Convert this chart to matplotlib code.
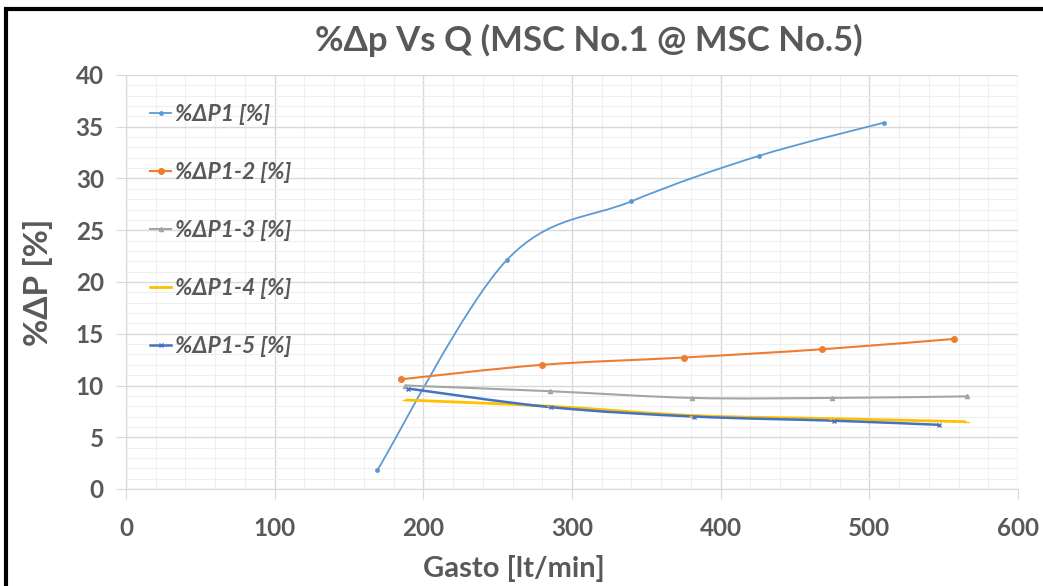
import matplotlib
matplotlib.use("Agg")
import matplotlib.pyplot as plt
import numpy as np
from matplotlib.path import Path
from matplotlib.patches import PathPatch, Rectangle
from matplotlib.lines import Line2D
from matplotlib.ticker import MultipleLocator

# ---- data ----
x_p1 = [169, 256, 340, 426, 510]
y_p1 = [1.8, 22.1, 27.8, 32.2, 35.4]

x_p12 = [185, 280, 375, 468, 557]
y_p12 = [10.6, 12.0, 12.7, 13.5, 14.5]

x_p13 = [188, 285, 381, 475, 566]
y_p13 = [10.0, 9.45, 8.8, 8.8, 8.95]

x_p14 = [188, 285, 381, 475, 565]
y_p14 = [8.6, 8.0, 7.1, 6.8, 6.5]

x_p15 = [190, 286, 382, 476, 547]
y_p15 = [9.7, 7.9, 7.0, 6.6, 6.2]

labels = ["%ΔP1 [%]", "%ΔP1-2 [%]", "%ΔP1-3 [%]", "%ΔP1-4 [%]", "%ΔP1-5 [%]"]
colors = ["#5B9BD5", "#ED7D31", "#A5A5A5", "#FFC000", "#4472C4"]
markers = ["o", "o", "^", "_", "x"]
msizes = [2.5, 4, 3, 5, 3]
lws = [1.3, 1.5, 1.5, 2.0, 1.8]

title = "%Δp Vs Q (MSC No.1 @ MSC No.5)"
xlabel = "Gasto [lt/min]"
ylabel = "%ΔP [%]"

series = [(x_p1, y_p1), (x_p12, y_p12), (x_p13, y_p13), (x_p14, y_p14), (x_p15, y_p15)]

gray = "#595959"
font = ["Lato", "DejaVu Sans"]

fig = plt.figure(figsize=(10.43, 5.86), dpi=100)
ax = fig.add_axes([126 / 1043, 1 - 489 / 586, (1018 - 126) / 1043, (489 - 75) / 586])


def smooth_path(xs, ys, t=1 / 6):
    pts = np.column_stack([xs, ys]).astype(float)
    n = len(pts)
    verts = [pts[0]]
    codes = [Path.MOVETO]
    for i in range(n - 1):
        p0 = pts[i - 1] if i > 0 else pts[i]
        p1 = pts[i]
        p2 = pts[i + 1]
        p3 = pts[i + 2] if i + 2 < n else pts[i + 1]
        c1 = p1 + (p2 - p0) * t
        c2 = p2 - (p3 - p1) * t
        verts += [c1, c2, p2]
        codes += [Path.CURVE4] * 3
    return Path(verts, codes)


handles = []
for (xs, ys), lab, c, m, ms, lw in zip(series, labels, colors, markers, msizes, lws):
    patch = PathPatch(smooth_path(xs, ys), facecolor="none", edgecolor=c, lw=lw, zorder=3)
    ax.add_patch(patch)
    ax.plot(xs, ys, linestyle="none", marker=m, color=c, markersize=ms, zorder=4)
    handles.append(Line2D([], [], color=c, lw=lw, marker=m, markersize=ms))

ax.set_xlim(0, 600)
ax.set_ylim(0, 40)
ax.xaxis.set_major_locator(MultipleLocator(100))
ax.xaxis.set_minor_locator(MultipleLocator(20))
ax.yaxis.set_major_locator(MultipleLocator(5))
ax.yaxis.set_minor_locator(MultipleLocator(1))
ax.grid(which="major", color="#D9D9D9", lw=1.0)
ax.grid(which="minor", color="#EFEFEF", lw=0.8)
ax.set_axisbelow(True)

for s in ["top", "right"]:
    ax.spines[s].set_visible(False)
for s in ["left", "bottom"]:
    ax.spines[s].set_color("#D9D9D9")
ax.tick_params(which="major", direction="out", length=7, color="#D9D9D9", labelcolor=gray)
ax.tick_params(axis="y", which="major", pad=9)
ax.tick_params(axis="x", which="major", pad=13)
ax.tick_params(which="minor", length=0)
for lab in ax.get_xticklabels() + ax.get_yticklabels():
    lab.set_fontfamily(font)
    lab.set_fontweight("bold")
    lab.set_fontsize(17.5)

ax.set_xlabel(xlabel, fontsize=21, fontweight="bold", color=gray, family=font)
ax.xaxis.set_label_coords((514 - 126) / 892, -(568 - 489) / 414, transform=ax.transAxes)
ax.xaxis.label.set_va("center")
ax.set_ylabel(ylabel, fontsize=24, fontweight="bold", color=gray, family=font, labelpad=16)
fig.text(589 / 1043, 1 - 40 / 586, title, ha="center", va="center", fontsize=25,
         fontweight="bold", color=gray, family=font)

leg = ax.legend(handles, labels, loc="upper left", bbox_to_anchor=(0.004, 0.98), frameon=False,
                labelspacing=1.62, handlelength=0.9, handletextpad=0.2,
                prop={"family": font, "style": "italic", "weight": "bold", "size": 16.5})
for t in leg.get_texts():
    t.set_color(gray)

fig.patches.append(Rectangle((6 / 1043, -0.1), 1.1, 1 - 9 / 586 + 0.1, transform=fig.transFigure,
                             fill=False, edgecolor="black", lw=3, clip_on=False))

fig.savefig("out.png", dpi=100)
